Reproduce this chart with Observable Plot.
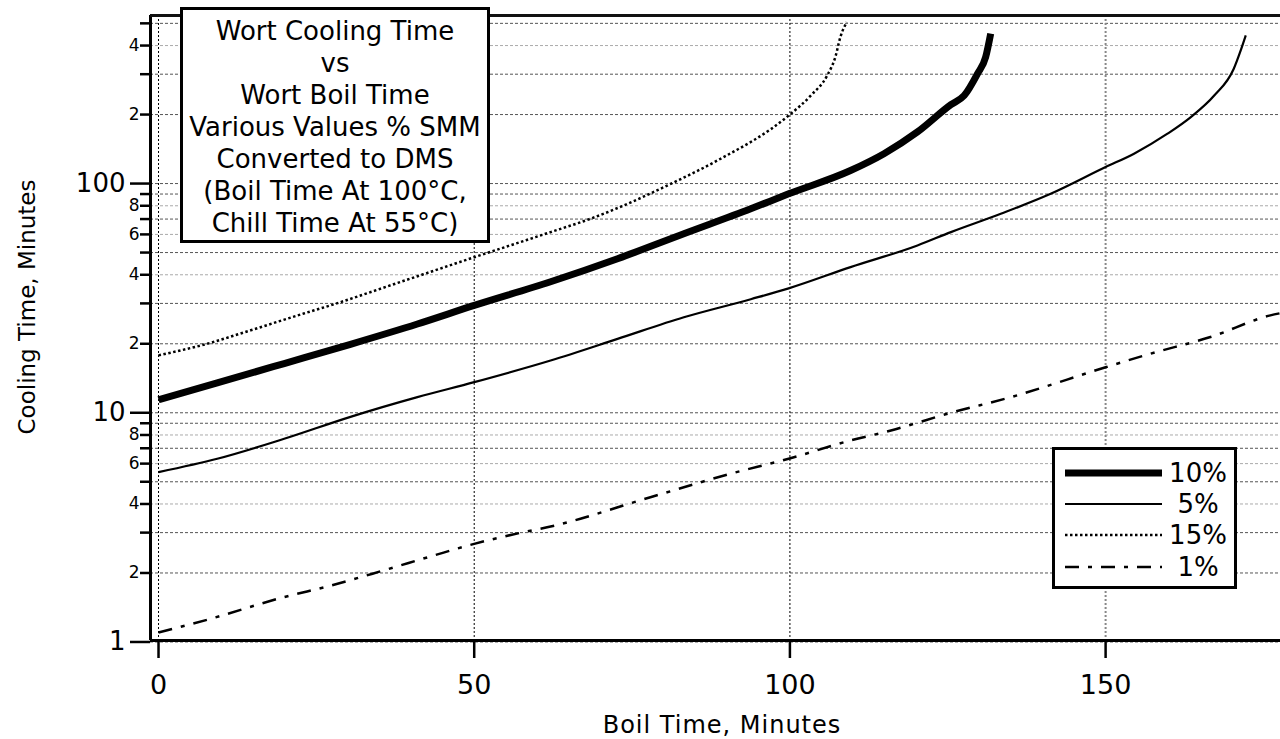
<!DOCTYPE html>
<html>
<head>
<meta charset="utf-8">
<script src="https://cdn.jsdelivr.net/npm/d3@7"></script>
<script src="https://cdn.jsdelivr.net/npm/@observablehq/plot@0.6"></script>
<style>
  html, body { margin: 0; padding: 0; background: #fff; overflow: hidden; }
  body { font-family: "DejaVu Sans", sans-serif; color: #000; }
  #wrap { position: relative; width: 1280px; height: 739px; }
  #wrap svg { position: absolute; left: 0; top: 0; }
  #titlebox {
    position: absolute; left: 180px; top: 7px; width: 310px; height: 236px;
    box-sizing: border-box; border: 3px solid #000; background: #fff;
    padding-top: 5px; text-align: center; font-size: 26px; line-height: 32px;
    white-space: nowrap;
  }
  #legend {
    position: absolute; left: 1052px; top: 447px; width: 185px; height: 142px;
    box-sizing: border-box; border: 3px solid #000; background: #fff; padding-top: 7px;
  }
  #legend .row { display: flex; align-items: center; height: 31.3px; }
  #legend .row svg { position: static; margin-left: 10px; }
  #legend .row span { display: inline-block; width: 72px; text-align: center; font-size: 26px; line-height: 26px; }
  #xtitle { position: absolute; left: 522px; width: 400px; top: 713px; text-align: center;
    font-size: 24px; line-height: 24px; letter-spacing: 1px; white-space: nowrap; }
  #ytitle { position: absolute; left: 27px; top: 307px; transform: translate(-50%, -50%) rotate(-90deg);
    font-size: 23px; line-height: 23px; white-space: nowrap; }
</style>
</head>
<body>
<div id="wrap"></div>
<script>
// ---- Data (boil time in minutes, cooling time in minutes) ----
const boil10 = [0, 9.3, 19.9, 30.4, 41, 50, 62.1, 72.7, 83.2, 93.8, 99.8, 109.6, 114.9, 120.2, 125.5, 127.6, 129.7, 131, 131.8];
const cool10 = [11.4, 13.5, 16.4, 19.9, 24.4, 29.4, 37.3, 47, 60.4, 77.6, 90.2, 114, 135, 168, 221, 242, 301, 356, 451];

const boil5 = [0, 9.3, 19.9, 30.4, 41, 50, 62.1, 72.7, 83.2, 93.8, 99.8, 109.6, 120.2, 125.5, 133.4, 141.3, 150, 154.5, 159.8, 163.5, 167.2, 170.3, 171.4, 172.2];
const cool5 = [5.51, 6.3, 7.7, 9.6, 11.7, 13.6, 16.9, 21.0, 26.1, 31.3, 34.9, 43.2, 53.7, 61.4, 73.8, 90.2, 118, 135, 165, 195, 242, 317, 381, 443];

const boil15 = [0, 7.7, 14.6, 23, 27.2, 38.3, 50, 62.1, 68.4, 82.2, 88.5, 99.8, 103.3, 105.9, 107.2, 108, 109];
const cool15 = [17.8, 20.0, 22.9, 27.1, 29.4, 37.2, 47.7, 61.4, 70.2, 103, 126, 198, 242, 296, 357, 436, 506];

const boil1 = [0, 7.7, 19.9, 27.2, 35.6, 43.5, 50, 57.7, 62.1, 77.9, 90.6, 99.8, 109.6, 116, 125.5, 135, 150, 157.1, 166.6, 176.1, 177.7];
const cool1 = [1.10, 1.25, 1.57, 1.76, 2.05, 2.38, 2.68, 3.01, 3.19, 4.28, 5.42, 6.30, 7.57, 8.37, 10.0, 11.7, 15.8, 18.1, 21.4, 26.6, 27.2];

const seriesNames = ["10%", "5%", "15%", "1%"];

const xDomain = [-1.27, 177.7];
const yDomain = [1.015, 541];
const xTicks = [0, 50, 100, 150];
const yMajorTicks = [1, 10, 100];
const yMinorTicks = [2, 3, 4, 5, 6, 7, 8, 9, 20, 30, 40, 50, 60, 70, 80, 90, 200, 300, 400, 500];
const yMinorLabelled = [2, 4, 6, 8, 20, 40, 60, 80, 200, 400];

const titleLines = ["Wort Cooling Time", "vs", "Wort Boil Time", "Various Values % SMM",
  "Converted to DMS", "(Boil Time At 100°C,", "Chill Time At 55°C)"];
const xTitle = "Boil Time, Minutes";
const yTitle = "Cooling Time, Minutes";

// ---- Build table ----
const rows = (name, xs, ys) => xs.map((x, i) => ({series: name, boil: x, cool: ys[i]}));
const data = [
  ...rows("10%", boil10, cool10),
  ...rows("5%", boil5, cool5),
  ...rows("15%", boil15, cool15),
  ...rows("1%", boil1, cool1)
];
const styles = {
  "10%": {strokeWidth: 7, strokeDasharray: null},
  "5%": {strokeWidth: 2.2, strokeDasharray: null},
  "15%": {strokeWidth: 2.5, strokeDasharray: "2.5,2.5"},
  "1%": {strokeWidth: 2.5, strokeDasharray: "14,9,4,9"}
};

const lineMarks = seriesNames.map(name => Plot.line(data.filter(d => d.series === name), {
  x: "boil", y: "cool", stroke: "#000", curve: "monotone-x",
  strokeWidth: styles[name].strokeWidth,
  strokeDasharray: styles[name].strokeDasharray || undefined,
  strokeLinejoin: "round", strokeLinecap: "butt"
}));

const chart = Plot.plot({
  width: 1280, height: 739,
  marginLeft: 150, marginRight: 0, marginTop: 15, marginBottom: 99,
  style: {fontFamily: '"DejaVu Sans", sans-serif', background: "transparent", color: "#000", overflow: "visible"},
  x: {domain: xDomain, axis: null},
  y: {type: "log", domain: yDomain, axis: null},
  marks: [
    Plot.gridY(yMinorTicks.filter(t => ![4, 6, 8, 40, 60, 80, 400].includes(t)).concat(yMajorTicks),
      {stroke: "#555", strokeOpacity: 1, strokeDasharray: "3,2"}),
    Plot.gridY([4, 6, 8, 40, 60, 80, 400], {stroke: "#aaa", strokeOpacity: 1, strokeDasharray: "3,2"}),
    Plot.gridX([0, 50, 100], {stroke: "#000", strokeOpacity: 1, strokeDasharray: "2,2"}),
    Plot.gridX([150], {stroke: "#888", strokeOpacity: 1, strokeWidth: 2, strokeDasharray: "2,2"}),
    ...lineMarks,
    // plot-area border: left, bottom, top
    Plot.ruleX([xDomain[0]], {stroke: "#000", strokeWidth: 3}),
    Plot.ruleY([yDomain[0]], {stroke: "#000", strokeWidth: 3}),
    Plot.ruleY([yDomain[1]], {stroke: "#111", strokeWidth: 3}),
    Plot.axisX(xTicks, {tickSize: 18, tickPadding: 16, fontSize: 27, strokeWidth: 2.5, label: null}),
    Plot.axisY(yMajorTicks, {tickSize: 20, tickPadding: 5, fontSize: 26, strokeWidth: 2.5, label: null,
      tickFormat: d => String(d)}),
    Plot.axisY(yMinorTicks, {tickSize: 10, tickPadding: 1, fontSize: 17, strokeWidth: 2.5, label: null,
      tickFormat: d => yMinorLabelled.includes(d) ? String(d)[0] : ""})
  ]
});

const wrap = document.getElementById("wrap");
wrap.appendChild(chart);

// Title box
const tb = document.createElement("div");
tb.id = "titlebox";
titleLines.forEach(t => { const l = document.createElement("div"); l.textContent = t; tb.appendChild(l); });
wrap.appendChild(tb);

// Legend
const lg = document.createElement("div");
lg.id = "legend";
seriesNames.forEach(name => {
  const r = document.createElement("div"); r.className = "row";
  const s = d3.create("svg").attr("width", 97).attr("height", 12);
  s.append("line").attr("x1", 0).attr("x2", 97).attr("y1", 6).attr("y2", 6)
    .attr("stroke", "#000").attr("stroke-width", styles[name].strokeWidth)
    .attr("stroke-dasharray", styles[name].strokeDasharray);
  r.appendChild(s.node());
  const sp = document.createElement("span"); sp.textContent = name; r.appendChild(sp);
  lg.appendChild(r);
});
wrap.appendChild(lg);

// Axis titles
const xt = document.createElement("div"); xt.id = "xtitle"; xt.textContent = xTitle; wrap.appendChild(xt);
const yt = document.createElement("div"); yt.id = "ytitle"; yt.textContent = yTitle; wrap.appendChild(yt);
</script>
</body>
</html>
